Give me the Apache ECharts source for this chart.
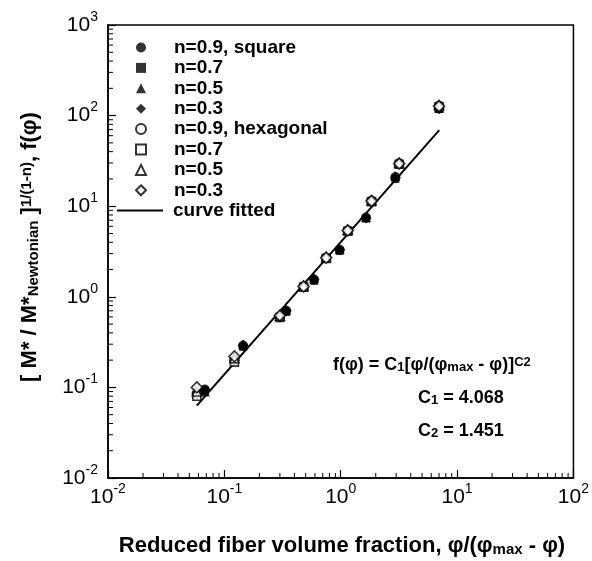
<!DOCTYPE html>
<html><head><meta charset="utf-8">
<script src="https://cdn.jsdelivr.net/npm/echarts@6/dist/echarts.min.js"></script>
<style>html,body{margin:0;padding:0;background:#fff}#c{width:592px;height:561px}</style>
</head><body><div id="c"></div>
<script>
// ---- data ----
const sqX   = [0.068, 0.145, 0.34, 0.59, 0.98, 1.65, 2.95, 7.0];
const sqN09 = [0.095, 0.29, 0.70, 1.55, 3.3, 7.5, 21.0, 120];
const sqN07 = [0.092, 0.28, 0.68, 1.50, 3.2, 7.3, 20.0, 118];
const sqN05 = [0.090, 0.30, 0.72, 1.60, 3.4, 7.6, 21.5, 122];
const sqN03 = [0.093, 0.29, 0.70, 1.55, 3.3, 7.4, 20.5, 120];
const hexX   = [0.058, 0.122, 0.30, 0.48, 0.75, 1.15, 1.84, 3.18, 7.0];
const hexN09 = [0.085, 0.20, 0.60, 1.30, 2.70, 5.4, 11.5, 29.5, 128];
const hexN07 = [0.080, 0.19, 0.59, 1.28, 2.65, 5.3, 11.2, 29.0, 125];
const hexN05 = [0.090, 0.21, 0.62, 1.32, 2.75, 5.5, 11.6, 30.0, 130];
const hexN03 = [0.100, 0.22, 0.62, 1.30, 2.70, 5.4, 11.4, 29.5, 127];
const fitX = [0.058, 7.03];
const fitY = [0.063, 69];
const xTickExp = [-2, -1, 0, 1, 2];
const yTickExp = [-2, -1, 0, 1, 2, 3];
const xMinor = [0.02,0.03,0.04,0.05,0.06,0.07,0.08,0.09,0.2,0.3,0.4,0.5,0.6,0.7,0.8,0.9,2,3,4,5,6,7,8,9,20,30,40,50,60,70,80,90];
const yMinor = [0.02,0.03,0.04,0.05,0.06,0.07,0.08,0.09,0.2,0.3,0.4,0.5,0.6,0.7,0.8,0.9,2,3,4,5,6,7,8,9,20,30,40,50,60,70,80,90,200,300,400,500,600,700,800,900];
const legendNames = ['n=0.9, square','n=0.7','n=0.5','n=0.3','n=0.9, hexagonal','n=0.7 ','n=0.5 ','n=0.3 ','curve fitted'];

const FF = '"Liberation Sans", Arial, Helvetica, sans-serif';
const zip = (xs, ys) => xs.map((x, i) => [x, ys[i]]);

function scat(name, xs, ys, symbol, filled, size) {
  return {
    type: 'scatter', name, data: zip(xs, ys), symbol, symbolSize: size, z: 5,
    itemStyle: filled ? {color: '#000'} : {color: '#fff', borderColor: '#000', borderWidth: 1.6}
  };
}
function tickFmt(v) {
  const e = Math.round(Math.log10(v));
  return '{b|10}{s|' + (e < 0 ? '-' + (-e) : e) + '}';
}
const tickRich = {
  b: {fontSize: 21, fontFamily: FF, color: '#000', lineHeight: 30},
  s: {fontSize: 14, fontFamily: FF, color: '#000', verticalAlign: 'top', lineHeight: 16}
};
const legText = {fontSize: 19, fontWeight: 'bold', fontFamily: FF, color: '#000', lineHeight: 15};
const subR = (fs, lh) => ({fontSize: fs, fontWeight: 'bold', fontFamily: FF, verticalAlign: 'bottom', lineHeight: lh});
const supR = (fs, lh) => ({fontSize: fs, fontWeight: 'bold', fontFamily: FF, verticalAlign: 'top', lineHeight: lh});

const chart = echarts.init(document.getElementById('c'), null, {renderer: 'canvas'});
chart.setOption({
  animation: false,
  backgroundColor: '#fff',
  grid: {left: 108, right: 14, top: 25, bottom: 83, show: true, borderColor: '#000', borderWidth: 1.5, backgroundColor: 'transparent'},
  xAxis: {
    type: 'log', logBase: 10, min: 0.01, max: 100,
    axisLine: {lineStyle: {color: '#000', width: 1.5}},
    axisTick: {inside: true, length: 8, lineStyle: {color: '#000', width: 1.2}},
    splitLine: {show: false},
    axisLabel: {formatter: tickFmt, rich: tickRich, margin: 4, color: '#000'}
  },
  yAxis: {
    type: 'log', logBase: 10, min: 0.01, max: 1000,
    axisLine: {lineStyle: {color: '#000', width: 1.5}},
    axisTick: {inside: true, length: 8, lineStyle: {color: '#000', width: 1.2}},
    splitLine: {show: false},
    axisLabel: {formatter: tickFmt, rich: tickRich, margin: 10, color: '#000'}
  },
  legend: [{
    orient: 'vertical', left: 135, top: 38, padding: 0, itemWidth: 10, itemHeight: 10, itemGap: 1.4,
    data: legendNames.slice(0, 8),
    textStyle: Object.assign({padding: [0, 0, 0, 23]}, legText),
    selectedMode: false
  }, {
    orient: 'vertical', left: 117, top: 201, padding: 0, itemWidth: 46, itemHeight: 2,
    data: [{name: legendNames[8], icon: 'rect'}],
    textStyle: Object.assign({padding: [0, 0, 0, 5]}, legText),
    selectedMode: false
  }],
  series: [
    scat(legendNames[0], sqX, sqN09, 'circle', true, 10),
    scat(legendNames[1], sqX, sqN07, 'rect', true, 8),
    scat(legendNames[2], sqX, sqN05, 'triangle', true, 10),
    scat(legendNames[3], sqX, sqN03, 'diamond', true, 11),
    scat(legendNames[4], hexX, hexN09, 'circle', false, 9),
    scat(legendNames[5], hexX, hexN07, 'rect', false, 8),
    scat(legendNames[6], hexX, hexN05, 'triangle', false, 9),
    scat(legendNames[7], hexX, hexN03, 'diamond', false, 11),
    {type: 'line', name: legendNames[8], data: zip(fitX, fitY), symbol: 'none', z: 3,
     lineStyle: {color: '#000', width: 2}, itemStyle: {color: '#000'}},
    {type: 'custom', silent: true, z: 2, data: xMinor.map(v => [v, 0.01]),
     renderItem: (p, api) => { const c = api.coord([api.value(0), 0.01]);
       return {type: 'line', shape: {x1: c[0], y1: c[1], x2: c[0], y2: c[1] - 5}, style: {stroke: '#000', lineWidth: 1}}; }},
    {type: 'custom', silent: true, z: 2, data: yMinor.map(v => [0.01, v]),
     renderItem: (p, api) => { const c = api.coord([0.01, api.value(1)]);
       return {type: 'line', shape: {x1: c[0], y1: c[1], x2: c[0] + 5, y2: c[1]}, style: {stroke: '#000', lineWidth: 1}}; }}
  ],
  graphic: [
    {type: 'text', x: 333, y: 365, style: {
      text: 'f(φ) = C{sub|1}[φ/(φ{sub|max} - φ)]{sup|C2}',
      font: 'bold 18px ' + FF, fill: '#000', verticalAlign: 'middle',
      rich: {sub: subR(13, 14), sup: supR(13, 14)}}},
    {type: 'text', x: 418, y: 398, style: {
      text: 'C{sub|1} = 4.068', font: 'bold 18px ' + FF, fill: '#000', verticalAlign: 'middle',
      rich: {sub: subR(13, 14)}}},
    {type: 'text', x: 418, y: 431, style: {
      text: 'C{sub|2} = 1.451', font: 'bold 18px ' + FF, fill: '#000', verticalAlign: 'middle',
      rich: {sub: subR(13, 14)}}},
    {type: 'text', x: 342, y: 546, style: {
      text: 'Reduced fiber volume fraction, φ/(φ{sub|max} - φ)',
      font: 'bold 22px ' + FF, fill: '#000', align: 'center', verticalAlign: 'middle',
      rich: {sub: subR(15, 16)}}},
    {type: 'text', x: 30, y: 247, rotation: Math.PI / 2, style: {
      text: '[ M* / M*{sub|Newtonian} ]{sup|1/(1-n)}, f(φ)',
      font: 'bold 22px ' + FF, fill: '#000', align: 'center', verticalAlign: 'middle',
      rich: {sub: subR(15, 16), sup: supR(15, 16)}}}
  ]
});
</script></body></html>
